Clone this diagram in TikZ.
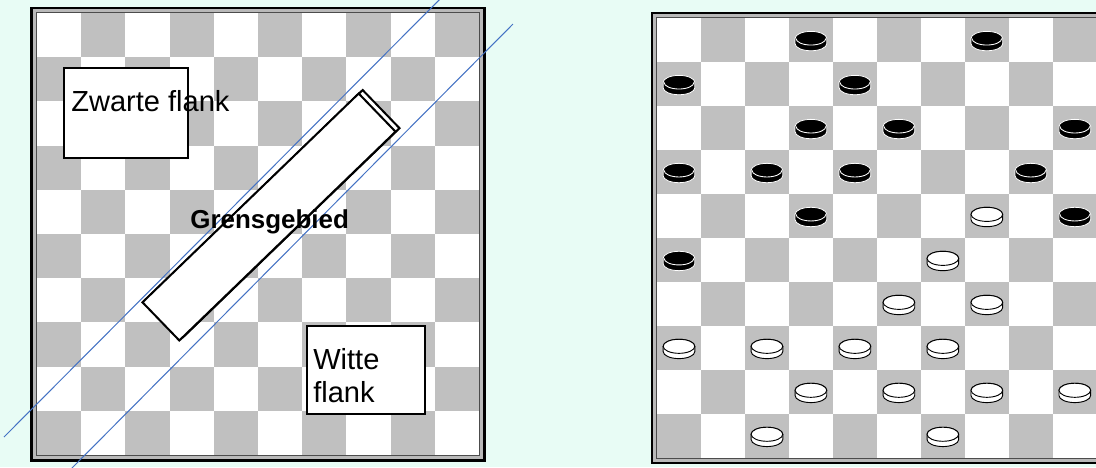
\documentclass[tikz,border=0pt]{standalone}
\usepackage{fontspec}
\setmainfont{Liberation Sans}
\usepackage{xcolor}
\usepackage{tikz}
\usetikzlibrary{positioning}
\definecolor{mintbg}{HTML}{E8FCF5}
\definecolor{boardgray}{HTML}{C0C0C0}
\definecolor{guideblue}{HTML}{4472C4}
% one 10x10 board with its frame, lower left corner at (0,0)
\newcommand{\dambord}{%
  \fill[white] (0,0) rectangle (10,10);
  \foreach \c in {0,...,9}
    \foreach \r in {0,...,9}
      {\ifodd\numexpr\c+\r\relax \fill[boardgray] (\c,9-\r) rectangle ++(1,1);\fi}
  \draw[gray!60!black,line width=0.6pt] (-0.011,-0.011) rectangle (10.011,10.011);
  \draw[gray!55,line width=1.9pt] (-0.057,-0.057) rectangle (10.057,10.057);
  \draw[black,line width=1.6pt] (-0.119,-0.119) rectangle (10.119,10.119);
}
% pieces: column, row (row 0 on top)
\newcommand{\zwartschijf}[2]{%
  \begin{scope}[shift={(#1+0.5,9.5-#2)}]
    \filldraw[fill=black,draw=white,line width=0.5pt] (-0.36,0.04) -- (-0.36,-0.08)
      arc[start angle=180,end angle=360,x radius=0.36,y radius=0.16] -- (0.36,0.04)
      arc[start angle=0,end angle=180,x radius=0.36,y radius=0.16] -- cycle;
    \draw[white,line width=0.55pt] (-0.34,0.04) arc[start angle=180,end angle=360,x radius=0.34,y radius=0.15];
  \end{scope}}
\newcommand{\witschijf}[2]{%
  \begin{scope}[shift={(#1+0.5,9.5-#2)}]
    \filldraw[fill=white,draw=black,line width=0.6pt] (-0.36,0.04) -- (-0.36,-0.08)
      arc[start angle=180,end angle=360,x radius=0.36,y radius=0.16] -- (0.36,0.04)
      arc[start angle=0,end angle=180,x radius=0.36,y radius=0.16] -- cycle;
    \filldraw[fill=white,draw=black,line width=0.6pt] (0,0.04) ellipse[x radius=0.36,y radius=0.16];
  \end{scope}}

\begin{document}
\begin{tikzpicture}[x=1cm,y=1cm,
    guide/.style={guideblue,line width=0.65pt},
    stripbox/.style={draw,fill=white,line width=1.3pt,rotate=44,minimum width=6.8cm,minimum height=1.2cm,inner sep=0pt,outer sep=0pt},
    flankbox/.style={draw,fill=white,line width=1.3pt,inner sep=0pt,outer sep=0pt},
    flanktext/.style={font=\fontsize{18.7}{21.2}\selectfont,inner sep=0pt},
    grenstext/.style={font=\bfseries\fontsize{16.7}{20}\selectfont,inner sep=0pt}]
  \useasboundingbox (0,0) rectangle (24.796,10.566);
  \clip (0,0) rectangle (24.796,10.566);
  \fill[mintbg] (0,0) rectangle (24.796,10.566);

  % left board: flanks and border zone
  \begin{scope}[shift={(0.837,0.2715)}]
    \dambord
    \coordinate (g1a) at (-0.747,0.407);
    \coordinate (g1b) at (9.208,10.407);
    \coordinate (g2a) at (0.747,-0.339);
    \coordinate (g2b) at (10.769,9.751);
    \draw[guide] (g1a) -- (g1b);
    \draw[guide] (g2a) -- (g2b);
    \node[stripbox] (achter) at (5.339,5.464) {};
    \node[stripbox] (grens) at (5.249,5.385) {};
    \node[flankbox,minimum width=2.805cm,minimum height=2.037cm] (zwartvak) at (2.014,7.738) {};
    \node[flankbox,minimum width=2.669cm,minimum height=1.991cm] (witvak) at (7.444,1.924) {};
    \node[flanktext,anchor=base west] (zwarte) at (0.769,7.783) {Zwarte flank};
    \node[flanktext,anchor=base west,align=left] (witte) at (6.244,1.199) {Witte\\flank};
    \node[grenstext,anchor=base west] (grenslabel) at (3.462,5.136) {Grensgebied};
  \end{scope}

  % right board: the position
  \begin{scope}[shift={(14.864,0.204)},scale=0.995]
    \dambord
    \foreach \c/\r in {3/0,7/0,0/1,4/1,3/2,5/2,9/2,0/3,2/3,4/3,8/3,3/4,9/4,0/5}
      \zwartschijf{\c}{\r};
    \foreach \c/\r in {7/4,6/5,5/6,7/6,0/7,2/7,4/7,6/7,3/8,5/8,7/8,9/8,2/9,6/9}
      \witschijf{\c}{\r};
  \end{scope}
\end{tikzpicture}
\end{document}
